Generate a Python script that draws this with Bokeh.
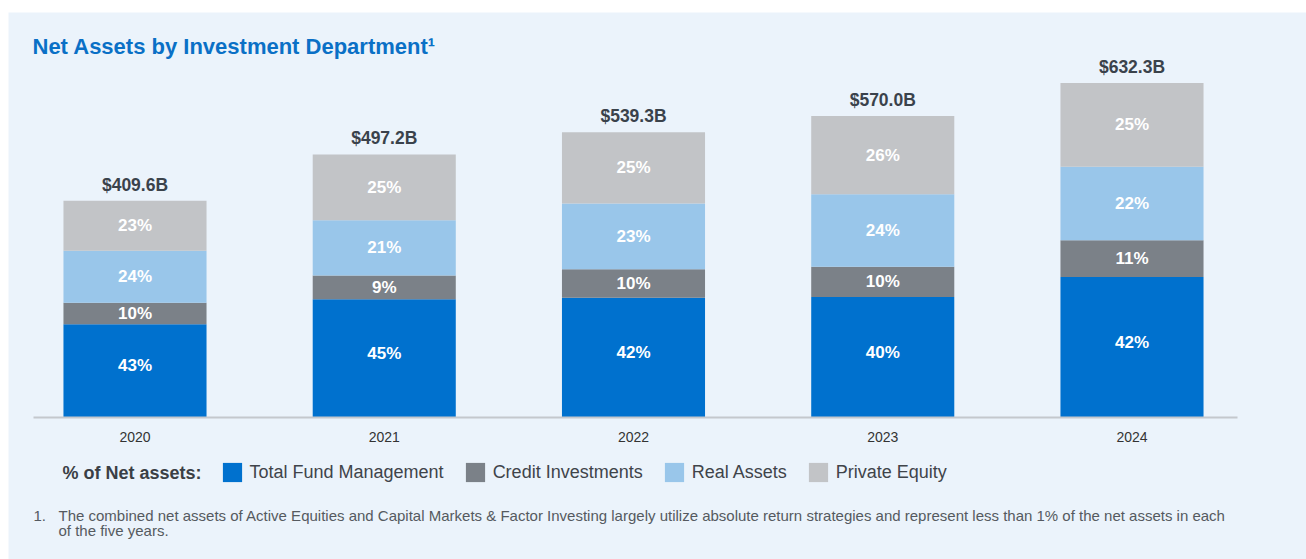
from bokeh.plotting import figure
from bokeh.models import ColumnDataSource, Legend, LegendItem, Label, FixedTicker, Range1d, Spacer
from bokeh.layouts import column, row
from bokeh.embed import file_html
from bokeh.resources import INLINE
from bokeh.core.properties import value

# ---- data ----
years = [2020, 2021, 2022, 2023, 2024]
year_labels = ["2020", "2021", "2022", "2023", "2024"]
totals = [409.6, 497.2, 539.3, 570.0, 632.3]
total_labels = ["$409.6B", "$497.2B", "$539.3B", "$570.0B", "$632.3B"]
series = ["Total Fund Management", "Credit Investments", "Real Assets", "Private Equity"]
tfm_pct = [43, 45, 42, 40, 42]
credit_pct = [10, 9, 10, 10, 11]
real_pct = [24, 21, 23, 24, 22]
pe_pct = [23, 25, 25, 26, 25]
colors = ["#0071CE", "#7B8188", "#99C6EA", "#C2C4C7"]
label_dy = [-5, 0, 0, 0]

BG = "#EBF3FB"
FONT = "Liberation Sans"

p = figure(width=1298, height=547,
           x_range=Range1d(2019.4925, 2024.7001), y_range=Range1d(-268.4, 765.6),
           output_backend="svg", toolbar_location=None, y_axis_location=None,
           min_border_left=0, min_border_right=0, min_border_top=0, min_border_bottom=0,
           background_fill_color=BG, border_fill_color=BG, outline_line_color=None)
p.xgrid.grid_line_color = None
p.ygrid.grid_line_color = None

pcts = [tfm_pct, credit_pct, real_pct, pe_pct]
bottom = [0.0] * len(years)
renderers = []
for name, pct, col, dy in zip(series, pcts, colors, label_dy):
    vals = [t * q / 100.0 for t, q in zip(totals, pct)]
    top = [b + v for b, v in zip(bottom, vals)]
    src = ColumnDataSource(dict(
        x=years, bottom=bottom, top=top,
        mid=[(b + t) / 2 for b, t in zip(bottom, top)],
        lab=[f"{q}%" for q in pct]))
    r = p.vbar(x="x", bottom="bottom", top="top", width=0.574, fill_color=col,
               line_color=None, source=src)
    p.text(x="x", y="mid", text="lab", source=src, text_align="center",
           text_baseline="middle", y_offset=dy, text_color="white", text_font=value(FONT),
           text_font_style="bold", text_font_size="17px")
    renderers.append(r)
    bottom = top

tsrc = ColumnDataSource(dict(x=years, y=totals, t=total_labels))
p.text(x="x", y="y", text="t", source=tsrc, text_align="center", text_baseline="bottom",
       y_offset=-6, text_color="#3A424B", text_font=value(FONT), text_font_style="bold",
       text_font_size="17.5px")

ax = p.xaxis[0]
ax.fixed_location = 0
ax.bounds = (2019.5928, 2024.4233)
ax.ticker = FixedTicker(ticks=years)
ax.major_label_overrides = {y: s for y, s in zip(years, year_labels)}
ax.axis_line_color = "#C4C8CD"
ax.axis_line_width = 2
ax.major_tick_line_color = None
ax.minor_tick_line_color = None
ax.major_label_text_font = FONT
ax.major_label_text_font_size = "14px"
ax.major_label_text_color = "#333333"
ax.major_label_standoff = 8

legend = Legend(items=[LegendItem(label=s, renderers=[r]) for s, r in zip(series, renderers)],
                orientation="horizontal", location=(211.5, 75),
                label_text_font=FONT, label_text_font_size="18px", label_text_color="#3F444A",
                label_standoff=6, glyph_width=24, glyph_height=24, spacing=19,
                padding=0, margin=0, border_line_color=None, background_fill_alpha=0)
p.add_layout(legend)

p.add_layout(Label(x=54, y=87, x_units="screen", y_units="screen", text="% of Net assets:",
                   text_font=FONT, text_font_size="18px", text_font_style="bold",
                   text_color="#3A3F45", text_baseline="middle"))

p.add_layout(Label(x=24, y=513, x_units="screen", y_units="screen",
                   text="Net Assets by Investment Department\u00b9",
                   text_font=FONT, text_font_size="22px", text_font_style="bold",
                   text_color="#0A70C6", text_baseline="middle"))

foot_col = "#555A60"
p.add_layout(Label(x=25, y=44, x_units="screen", y_units="screen", text="1.",
                   text_font=FONT, text_font_size="15px", text_color=foot_col,
                   text_baseline="middle"))
p.add_layout(Label(x=50, y=44, x_units="screen", y_units="screen",
                   text="The combined net assets of Active Equities and Capital Markets & Factor Investing largely utilize absolute return strategies and represent less than 1% of the net assets in each",
                   text_font=FONT, text_font_size="15px", text_color=foot_col,
                   text_baseline="middle"))
p.add_layout(Label(x=50, y=29, x_units="screen", y_units="screen",
                   text="of the five years.",
                   text_font=FONT, text_font_size="15px", text_color=foot_col,
                   text_baseline="middle"))

layout = column(Spacer(width=1306, height=12), row(Spacer(width=8, height=547), p))
open("out.html", "w").write(file_html(layout, INLINE))
